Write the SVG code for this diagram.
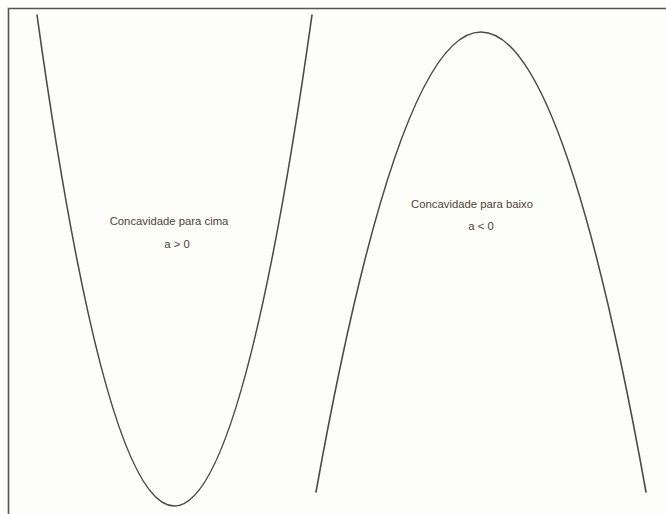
<svg xmlns="http://www.w3.org/2000/svg" width="666" height="514" viewBox="0 0 666 514">
<style>
.curve{fill:none;stroke:#4a4a4a;stroke-width:1.6;stroke-linecap:round}
.lbl{font-family:"Liberation Sans",Arial,sans-serif;font-size:11.3px;fill:#4e4238;text-anchor:middle}
</style>
<rect x="0" y="0" width="666" height="514" fill="#fdfdf9"/>
<path d="M8.5,514 V8.5 H666" fill="none" stroke="#555" stroke-width="1.6"/>
<g id="up">
<path class="curve" d="M37,15 Q174,997 312,15"/>
<text class="lbl" x="169" y="225">Concavidade para cima</text>
<text class="lbl" x="177" y="248">a &gt; 0</text>
</g>
<g id="down">
<path class="curve" d="M316,492 Q481,-428 646,492"/>
<text class="lbl" x="472" y="208">Concavidade para baixo</text>
<text class="lbl" x="481" y="230">a &lt; 0</text>
</g>
</svg>
